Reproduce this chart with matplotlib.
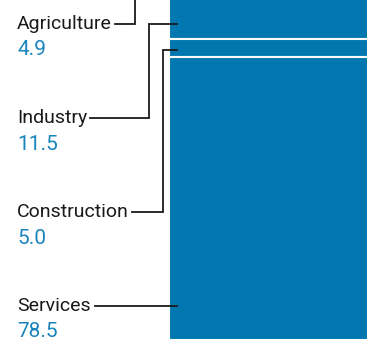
import matplotlib
matplotlib.use("Agg")
import matplotlib.pyplot as plt
import matplotlib.transforms as mtransforms
from matplotlib.lines import Line2D
import numpy as np

categories = ["Agriculture", "Industry", "Construction", "Services"]
values = [4.9, 11.5, 5.0, 78.5]
value_labels = ["4.9", "11.5", "5.0", "78.5"]

W, H = 367, 340
fig = plt.figure(figsize=(W / 100, H / 100), dpi=100)
BAR_COLOR = "#0077ae"
VAL_COLOR = "#1a84bc"

# axes holding the single stacked bar
ax = fig.add_axes([169 / W, 0, 1 - 169 / W + 0.01, 1])
starts = np.concatenate([[0], np.cumsum(values)[:-1]])
ax.bar(np.zeros(len(values)), values, bottom=starts, width=1.0,
       color=BAR_COLOR, edgecolor="white", linewidth=1.5, align="center")
ax.set_xlim(-0.5, 0.5)
ax.set_ylim(sum(values), 5.43)
ax.axis("off")

# pixel transform (top-left origin)
px = mtransforms.Affine2D().scale(1 / W, -1 / H).translate(0, 1) + fig.transFigure

label_y = [24, 118, 212, 306]
value_y = [49.5, 144.5, 238.5, 331.5]
text_x = 17
for cat, vl, ly, vy in zip(categories, value_labels, label_y, value_y):
    fig.text(text_x, ly, cat, transform=px, ha="left", va="center",
             fontsize=14, family="Roboto", color="#1a1a1a")
    fig.text(text_x, vy, vl, transform=px, ha="left", va="center",
             fontsize=15, family="Roboto", color=VAL_COLOR)

# leader lines (layout in pixels)
def seg_px(idx, frac):
    v = starts[idx] + frac * values[idx]
    disp = ax.transData.transform((0, v))
    return H - disp[1]

bar_in = 177
leaders = [
    [(115, 24), (135, 24), (135, seg_px(0, 0.5)), (bar_in, seg_px(0, 0.5))],
    [(90, 118), (149, 118), (149, 24), (bar_in, 24)],
    [(132, 212), (163, 212), (163, 50), (bar_in, 50)],
    [(95, 306), (bar_in, 306)],
]
for pts in leaders:
    xs, ys = zip(*pts)
    fig.add_artist(Line2D(xs, ys, transform=px, color="#1a1a1a", lw=1.3,
                          solid_joinstyle="miter"))

fig.savefig("out.png", dpi=100)
